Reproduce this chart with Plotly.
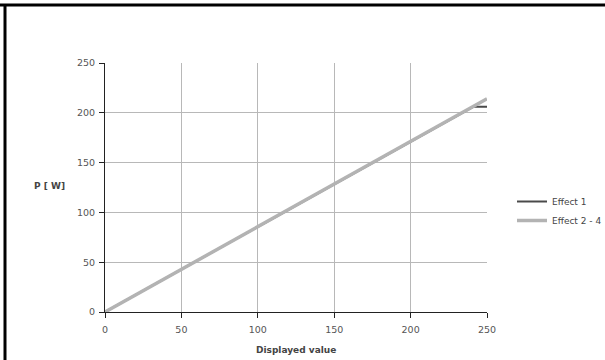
import plotly.graph_objects as go

effect1_x = [0, 241, 250]
effect1_y = [0, 206, 206]
effect24_x = [0, 250]
effect24_y = [0, 214]
tick_vals = [0, 50, 100, 150, 200, 250]

W, H = 605, 360
L, R, T, B = 105, 118, 63, 48
pw, ph = W - L - R, H - T - B

def px(x):
    return (x - L) / pw

def py(y):
    return (H - B - y) / ph

fig = go.Figure()
fig.add_trace(go.Scatter(x=effect1_x, y=effect1_y, mode="lines", name="Effect 1",
                         line=dict(color="#4a4a4a", width=2)))
fig.add_trace(go.Scatter(x=effect24_x, y=effect24_y, mode="lines", name="Effect 2 - 4",
                         line=dict(color="#b3b3b3", width=3.5)))

axis_common = dict(
    showgrid=True, gridcolor="#b8b8b8", gridwidth=1,
    showline=True, linecolor="#222", linewidth=1,
    ticks="outside", ticklen=5, tickcolor="#222",
    tickfont=dict(family="DejaVu Sans", size=9.5, color="#555"),
    zeroline=False, tickvals=tick_vals,
)
fig.update_xaxes(range=[0, 250], ticklabelstandoff=4, **axis_common)
fig.update_yaxes(range=[0, 250], ticklabelstandoff=2, **axis_common)

fig.add_annotation(text="<b>Displayed value</b>", xref="paper", yref="paper",
                   x=0.5, y=py(350), showarrow=False, yanchor="middle",
                   font=dict(family="DejaVu Sans", size=9, color="#444"))
fig.add_annotation(text="<b>P [ W]</b>", xref="paper", yref="paper",
                   x=px(50), y=py(186), showarrow=False, xanchor="center", yanchor="middle",
                   font=dict(family="DejaVu Sans", size=9, color="#444"))

# outer border (top and left)
fig.add_shape(type="line", xref="paper", yref="paper", x0=px(0), x1=px(W), y0=py(5), y1=py(5),
              line=dict(color="black", width=3))
fig.add_shape(type="line", xref="paper", yref="paper", x0=px(5), x1=px(5), y0=py(5), y1=py(H),
              line=dict(color="black", width=3))

fig.update_layout(
    width=W, height=H,
    margin=dict(l=L, r=R, t=T, b=B, autoexpand=False),
    paper_bgcolor="white", plot_bgcolor="white",
    showlegend=True,
    legend=dict(x=px(512), y=py(187), xanchor="left", yanchor="top",
                font=dict(family="DejaVu Sans", size=9, color="#444"),
                itemwidth=30, tracegroupgap=0, bgcolor="rgba(0,0,0,0)"),
)
fig.write_html("out.html", config={"displayModeBar": False},
               post_script="document.body.style.margin='0';document.body.style.overflow='hidden';")
